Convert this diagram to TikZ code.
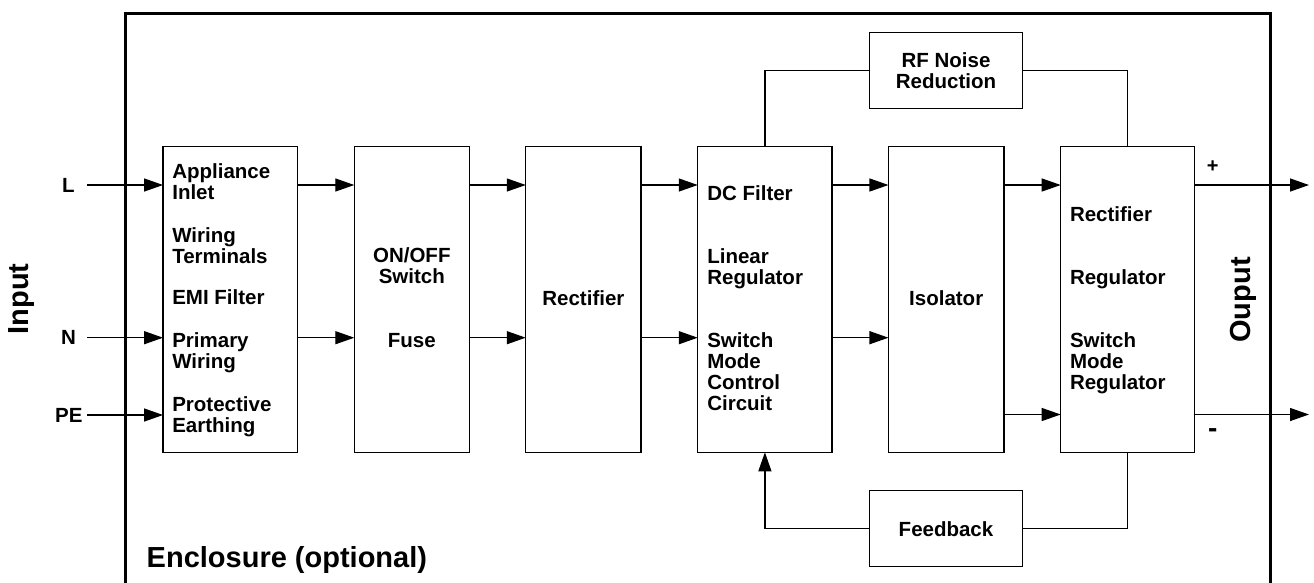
\documentclass[tikz,border=0pt]{standalone}
\usepackage{fontspec}
\setmainfont{Liberation Sans}
\usetikzlibrary{arrows.meta}
\tikzset{
  blk/.style={draw, line width=1.3pt, inner sep=0pt, outer sep=0pt, fill=none},
  conn/.style={line width=1.3pt},
  arr/.style={line width=1.3pt, -{Triangle[length=19pt,width=13pt]}},
  txt/.style={inner sep=0pt, outer sep=0pt, font=\fontsize{20.5}{21}\selectfont\bfseries},
  bigtxt/.style={inner sep=0pt, outer sep=0pt, font=\fontsize{29}{30}\selectfont\bfseries},
  enc/.style={line width=3pt}
}
\begin{document}
\begin{tikzpicture}[x=1pt,y=-1pt]
\useasboundingbox (0,0) rectangle (1314,582);
% enclosure
\coordinate (encBL) at (125.2,585);
\coordinate (encTL) at (125.2,13.3);
\coordinate (encTR) at (1270.7,13.3);
\coordinate (encBR) at (1270.7,585);
\draw[enc] (encBL) -- (encTL) -- (encTR) -- (encBR);
% rows
\coordinate (rowA) at (0,185);
\coordinate (rowB) at (0,337.7);
\coordinate (rowC) at (0,414.5);
% boxes
\node[blk, minimum width=134.3pt, minimum height=305.6pt] (inlet) at (230.2,299.5) {};
\node[blk, minimum width=115pt, minimum height=305.6pt] (switch) at (411.8,299.5) {};
\node[blk, minimum width=115.3pt, minimum height=305.6pt] (rect) at (583.4,299.5) {};
\node[blk, minimum width=134.3pt, minimum height=305.6pt] (dcf) at (764.9,299.5) {};
\node[blk, minimum width=115.5pt, minimum height=305.6pt] (iso) at (946.2,299.5) {};
\node[blk, minimum width=133.6pt, minimum height=305.6pt] (outb) at (1127.5,299.5) {};
\node[blk, minimum width=153.4pt, minimum height=76pt] (rf) at (946,70.3) {};
\node[blk, minimum width=153.4pt, minimum height=76pt] (fb) at (946,528.7) {};
% box texts
\node[txt, anchor=north west, align=left] (t1) at (172.3,163.6) {Appliance\\Inlet};
\node[txt, anchor=north west, align=left] (t2) at (172.3,227.3) {Wiring\\Terminals};
\node[txt, anchor=north west, align=left] (t3) at (172.3,290.1) {EMI Filter};
\node[txt, anchor=north west, align=left] (t4) at (172.3,332.9) {Primary\\Wiring};
\node[txt, anchor=north west, align=left] (t5) at (172.3,396.9) {Protective\\Earthing};
\node[txt, anchor=north, align=center] (t6) at (411.8,247.9) {ON/OFF\\Switch};
\node[txt, anchor=north, align=center] (t7) at (411.8,332.9) {Fuse};
\node[txt, anchor=north, align=center] (t8) at (583.4,290.8) {Rectifier};
\node[txt, anchor=north west, align=left] (t9) at (707.3,185.3) {DC Filter};
\node[txt, anchor=north west, align=left] (t10) at (707.3,248.6) {Linear\\Regulator};
\node[txt, anchor=north west, align=left] (t11) at (707.3,332.9) {Switch\\Mode\\Control\\Circuit};
\node[txt, anchor=north, align=center] (t12) at (946.2,290.3) {Isolator};
\node[txt, anchor=north west, align=left] (t13) at (1070,206.3) {Rectifier};
\node[txt, anchor=north west, align=left] (t14) at (1070,269.6) {Regulator};
\node[txt, anchor=north west, align=left] (t15) at (1070,332.9) {Switch\\Mode\\Regulator};
\node[txt, align=center] (t16) at (946,70.3) {RF Noise\\Reduction};
\node[txt, align=center] (t17) at (946,528.7) {Feedback};
% side labels
\node[txt] (lL) at (68.5,185) {L};
\node[txt] (lN) at (68.5,337.7) {N};
\node[txt, anchor=east] (lPE) at (82.5,415) {PE};
\node[bigtxt, rotate=90, anchor=base] (lin) at (28,299) {Input};
\node[bigtxt, rotate=90, anchor=base] (lout) at (1250,300) {Ouput};
\node[txt, font=\fontsize{20}{20}\selectfont\bfseries] (lplus) at (1212.7,166.5) {+};
\node[txt, font=\fontsize{28}{28}\selectfont\bfseries] (lminus) at (1212.7,433.3) {-};
\node[bigtxt, anchor=north west] (lenc) at (146.7,546) {Enclosure (optional)};
% free ends
\coordinate (inL) at (87,185);
\coordinate (inN) at (87,337.7);
\coordinate (inPE) at (87,415);
\coordinate (outP) at (1309,185);
\coordinate (outM) at (1309,414.5);
% connectors
\draw[arr] (inL) -- (inlet.west |- inL);
\draw[arr] (inN) -- (inlet.west |- inN);
\draw[arr] (inPE) -- (inlet.west |- inPE);
\draw[arr] (inlet.east |- rowA) -- (switch.west |- rowA);
\draw[arr] (inlet.east |- rowB) -- (switch.west |- rowB);
\draw[arr] (switch.east |- rowA) -- (rect.west |- rowA);
\draw[arr] (switch.east |- rowB) -- (rect.west |- rowB);
\draw[arr] (rect.east |- rowA) -- (dcf.west |- rowA);
\draw[arr] (rect.east |- rowB) -- (dcf.west |- rowB);
\draw[arr] (dcf.east |- rowA) -- (iso.west |- rowA);
\draw[arr] (dcf.east |- rowB) -- (iso.west |- rowB);
\draw[arr] (iso.east |- rowA) -- (outb.west |- rowA);
\draw[arr] (iso.east |- rowC) -- (outb.west |- rowC);
\draw[arr] (outb.east |- outP) -- (outP);
\draw[arr] (outb.east |- outM) -- (outM);
\draw[conn] (dcf.north) |- (rf.west);
\draw[conn] (rf.east) -| (outb.north);
\draw[conn] (outb.south) |- (fb.east);
\draw[arr] (fb.west) -| (dcf.south);
\end{tikzpicture}
\end{document}
